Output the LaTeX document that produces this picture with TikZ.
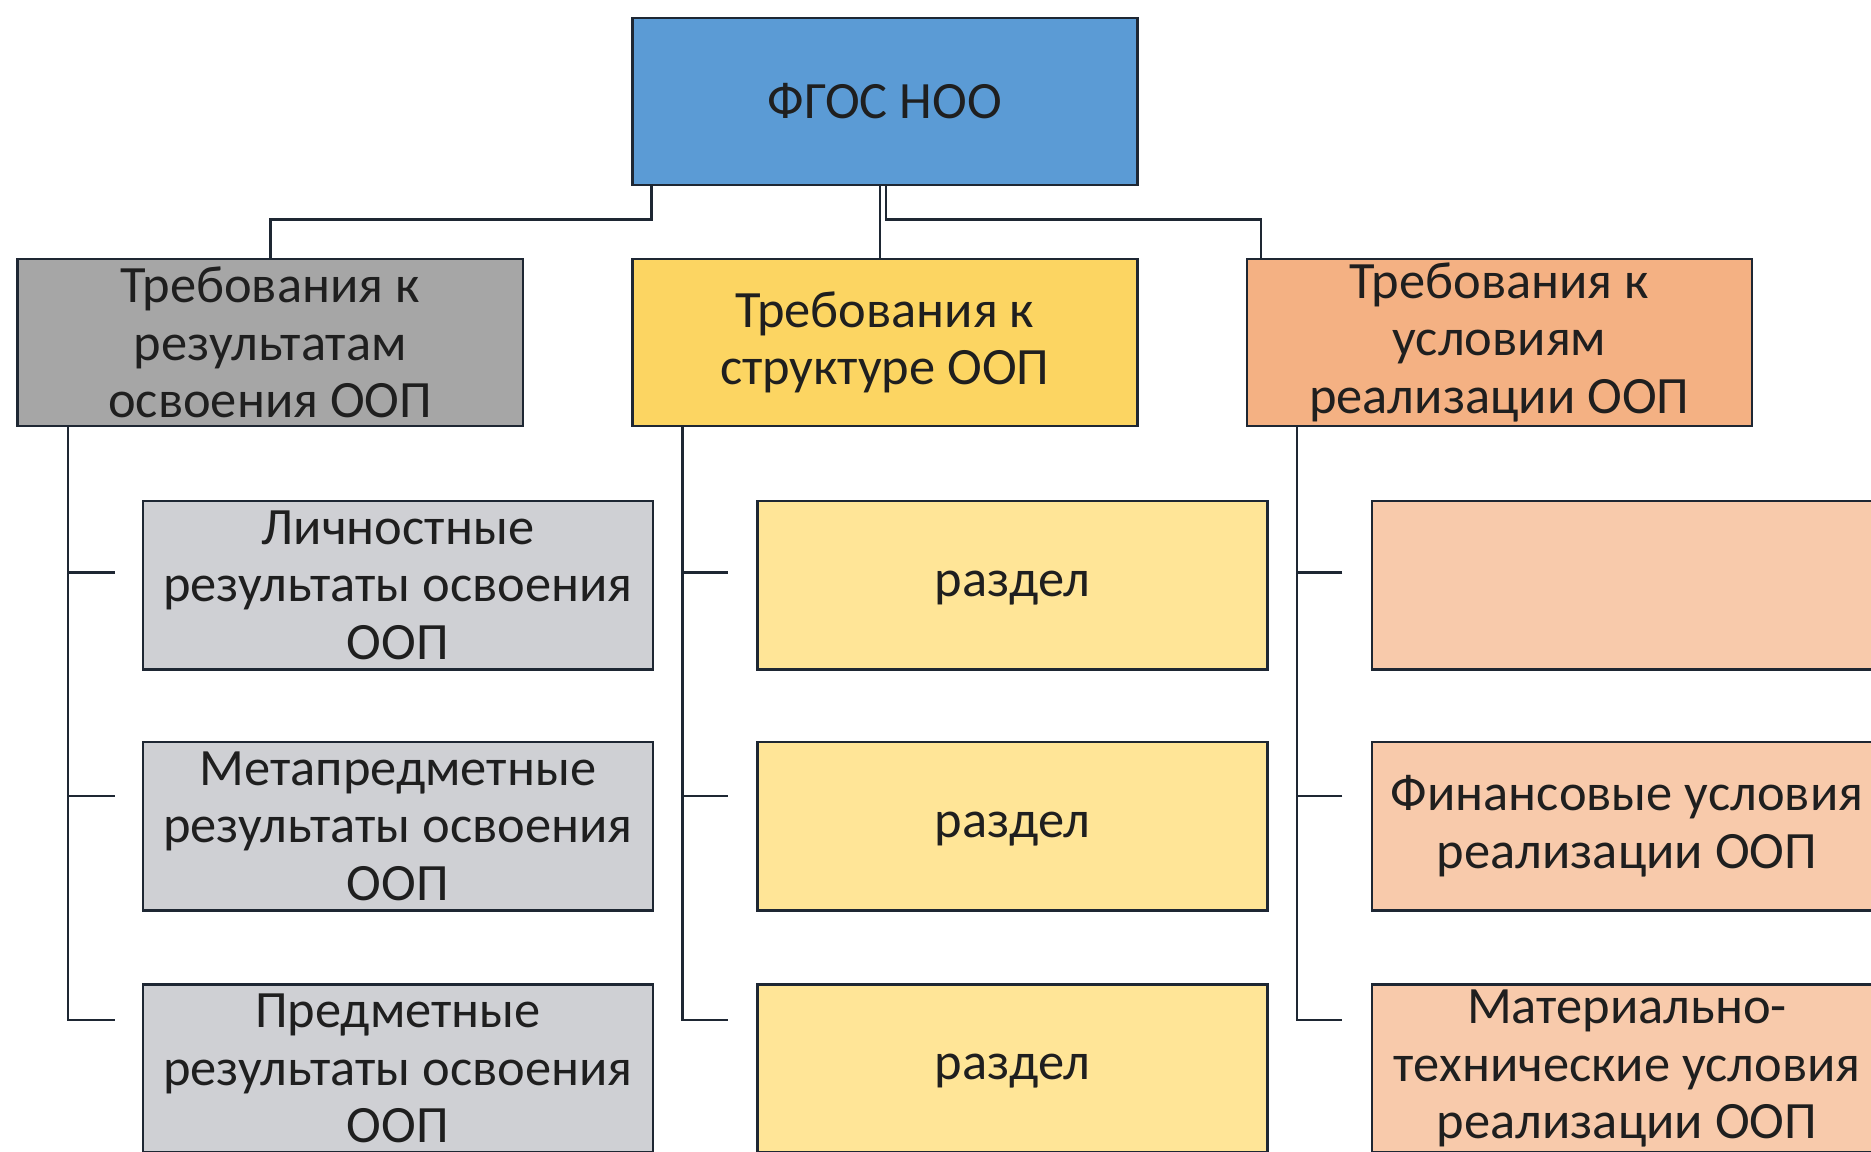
\documentclass[tikz,border=0pt]{standalone}
\usepackage{fontspec}
\setmainfont{Carlito}
\usepackage{tikz}

\definecolor{fgosblue}{HTML}{5B9BD5}
\definecolor{resgray}{HTML}{A6A6A6}
\definecolor{resgraylt}{HTML}{CFD0D4}
\definecolor{stryel}{HTML}{FCD562}
\definecolor{stryellt}{HTML}{FFE597}
\definecolor{uslor}{HTML}{F4B183}
\definecolor{uslorlt}{HTML}{F8CAAB}
\definecolor{edge}{HTML}{1E2733}

\tikzset{
  box/.style={draw=edge,line width=0.6pt,rectangle,inner sep=0pt,align=center,
    text=black!88,font=\fontsize{12.5}{13.7}\selectfont},
  headbox/.style={box,minimum width=4.23cm,minimum height=1.40cm},
  itembox/.style={box,minimum width=4.27cm,minimum height=1.41cm},
  partbox/.style={itembox,fill=stryellt,text height=1.6ex,text depth=0.5ex},
  link/.style={draw=edge,line width=0.6pt}
}

\begin{document}
\begin{tikzpicture}[x=0.01cm,y=-0.01cm]
 	 	\useasboundingbox (0,0) rectangle (1568,965);
 	 	\clip (0,0) rectangle (1568,965);

 	 	\node[headbox,fill=fgosblue] (fgos) at (741.5,85) {ФГОС НОО};

 	 	\node[headbox,fill=resgray] (res) at (226.5,287) {Требования к\\результатам\\освоения ООП};
 	 	\node[headbox,fill=stryel] (str) at (741.5,287) {Требования к\\структуре ООП};
 	 	\node[headbox,fill=uslor] (usl) at (1256.5,287) {Требования к\\условиям\\реализации ООП};

 	 	\node[itembox,fill=resgraylt] (l1) at (333.5,490.5) {Личностные\\результаты освоения\\ООП};
 	 	\node[itembox,fill=resgraylt] (l2) at (333.5,692.5) {Метапредметные\\результаты освоения\\ООП};
 	 	\node[itembox,fill=resgraylt] (l3) at (333.5,895.5) {Предметные\\результаты освоения\\ООП};

 	 	\node[partbox] (m1) at (848.5,490.5) {раздел};
 	 	\node[partbox] (m2) at (848.5,692.5) {раздел};
 	 	\node[partbox] (m3) at (848.5,895.5) {раздел};

 	 	\node[itembox,fill=uslorlt] (u1) at (1363.5,490.5) {};
 	 	\node[itembox,fill=uslorlt] (u2) at (1363.5,692.5) {Финансовые условия\\реализации ООП};
 	 	\node[itembox,fill=uslorlt] (u3) at (1363.5,895.5) {Материально-\\технические условия\\реализации ООП};

 	 	\draw[link] ([xshift=0.17cm]fgos.south west) -- ++(0,28) -| (res.north);
 	 	\draw[link] ([xshift=-0.04cm]fgos.south) -- ([xshift=-0.04cm]str.north);
 	 	\draw[link] ([xshift=0.01cm]fgos.south) -- ++(0,28) -| ([xshift=0.13cm]usl.north west);

 	 	\foreach \c/\x in {res/96,str/610,usl/1125} {
 	 	  \coordinate (\c-t1) at (\x,480);
 	 	  \coordinate (\c-t2) at (\x,667);
 	 	  \coordinate (\c-t3) at (\x,855);
 	 	  \draw[link] ([xshift=0.43cm]\c.south west) coordinate (\c-s) |- (\c-t3);
 	 	  \draw[link] (\c-t1) -- (\c-t1 -| \c-s);
 	 	  \draw[link] (\c-t2) -- (\c-t2 -| \c-s);
 	 	}
 	 \end{tikzpicture}
\end{document}
